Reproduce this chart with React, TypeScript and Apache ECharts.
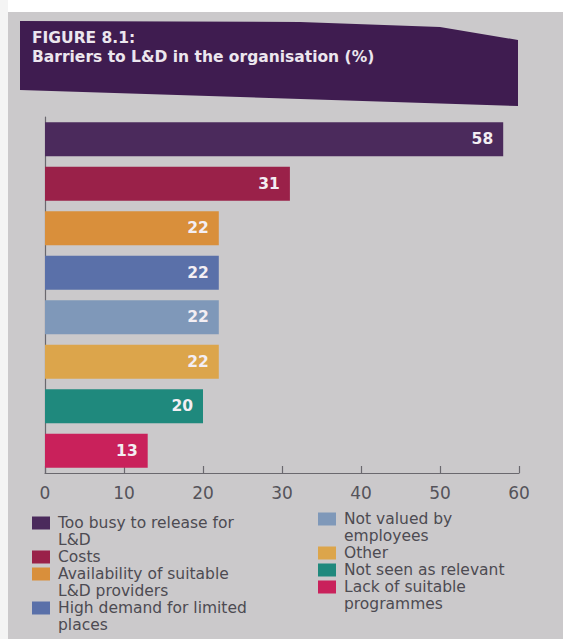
import React, { useEffect, useRef } from "react";
import * as echarts from "echarts";

const titleLines = ["FIGURE 8.1:", "Barriers to L&D in the organisation (%)"];
const categories = [
  "Too busy to release for\nL&D",
  "Costs",
  "Availability of suitable\nL&D providers",
  "High demand for limited\nplaces",
  "Not valued by\nemployees",
  "Other",
  "Not seen as relevant",
  "Lack of suitable\nprogrammes",
];
const values = [58, 31, 22, 22, 22, 22, 20, 13];
const barColors = ["#4b2a5c", "#9a2149", "#d98f3b", "#5a70a9", "#7f98b9", "#dca54b", "#1f897d", "#c9215b"];
const legendColumnSplit = 4;

const FONT = "DejaVu Sans";

function buildLegend() {
  const els: any[] = [];
  const lh = 17;
  const cols = [
    { idx: categories.map((_, i) => i).slice(0, legendColumnSplit), sx: 32, tx: 58, y0: 523 },
    { idx: categories.map((_, i) => i).slice(legendColumnSplit), sx: 318, tx: 344, y0: 519 },
  ];
  cols.forEach((c) => {
    let y = c.y0;
    c.idx.forEach((i) => {
      const lines = categories[i].split("\n").length;
      els.push({
        type: "rect",
        shape: { x: c.sx, y: y - 6.5, width: 18, height: 13 },
        style: { fill: barColors[i] },
      });
      els.push({
        type: "text",
        x: c.tx,
        y: y - lh / 2,
        style: {
          text: categories[i],
          font: `15.5px '${FONT}'`,
          fill: "#4d4b52",
          lineHeight: lh,
          verticalAlign: "top",
          align: "left",
        },
      });
      y += lines * lh;
    });
  });
  return els;
}

export default function App() {
  const ref = useRef<HTMLDivElement>(null);
  useEffect(() => {
    if (!ref.current) return;
    const chart = echarts.init(ref.current, null, { renderer: "svg" });
    chart.setOption({
      animation: false,
      backgroundColor: "#cbc9cb",
      graphic: [
        { type: "rect", shape: { x: 0, y: 0, width: 563, height: 12 }, style: { fill: "#ffffff" } },
        { type: "rect", shape: { x: 0, y: 0, width: 8, height: 639 }, style: { fill: "#f4f4f4" } },
        {
          type: "polygon",
          shape: { points: [[20, 21], [300, 22], [440, 27], [518, 40], [518, 106], [20, 90]] },
          style: { fill: "#3f1c50" },
        },
        {
          type: "text",
          x: 32,
          y: 28,
          style: {
            text: titleLines.join("\n"),
            font: `bold 15.5px '${FONT}'`,
            fill: "#ece6ee",
            lineHeight: 19,
            verticalAlign: "top",
          },
        },
        ...buildLegend(),
      ],
      grid: { left: 45, right: 44, top: 117, bottom: 166, containLabel: false },
      xAxis: {
        type: "value",
        min: 0,
        max: 60,
        interval: 10,
        splitLine: { show: false },
        axisLine: { show: true, lineStyle: { color: "#6a686e", width: 1.2 } },
        axisTick: { show: true, inside: true, length: 7, lineStyle: { color: "#6a686e", width: 1.2 } },
        axisLabel: { color: "#55535a", fontFamily: FONT, fontSize: 17, margin: 11 },
      },
      yAxis: {
        type: "category",
        inverse: true,
        data: categories,
        axisLine: { show: true, lineStyle: { color: "#6a686e", width: 1.2 } },
        axisTick: { show: false },
        axisLabel: { show: false },
      },
      series: [
        {
          type: "bar",
          barWidth: 34,
          data: values.map((v, i) => ({ value: v, itemStyle: { color: barColors[i] } })),
          label: {
            show: true,
            position: "insideRight",
            distance: 10,
            color: "#f3eef3",
            fontFamily: FONT,
            fontWeight: "bold",
            fontSize: 15.5,
          },
        },
      ],
    });
    return () => chart.dispose();
  }, []);
  return <div ref={ref} style={{ position: "fixed", left: 0, top: 0, width: 563, height: 639 }} />;
}
